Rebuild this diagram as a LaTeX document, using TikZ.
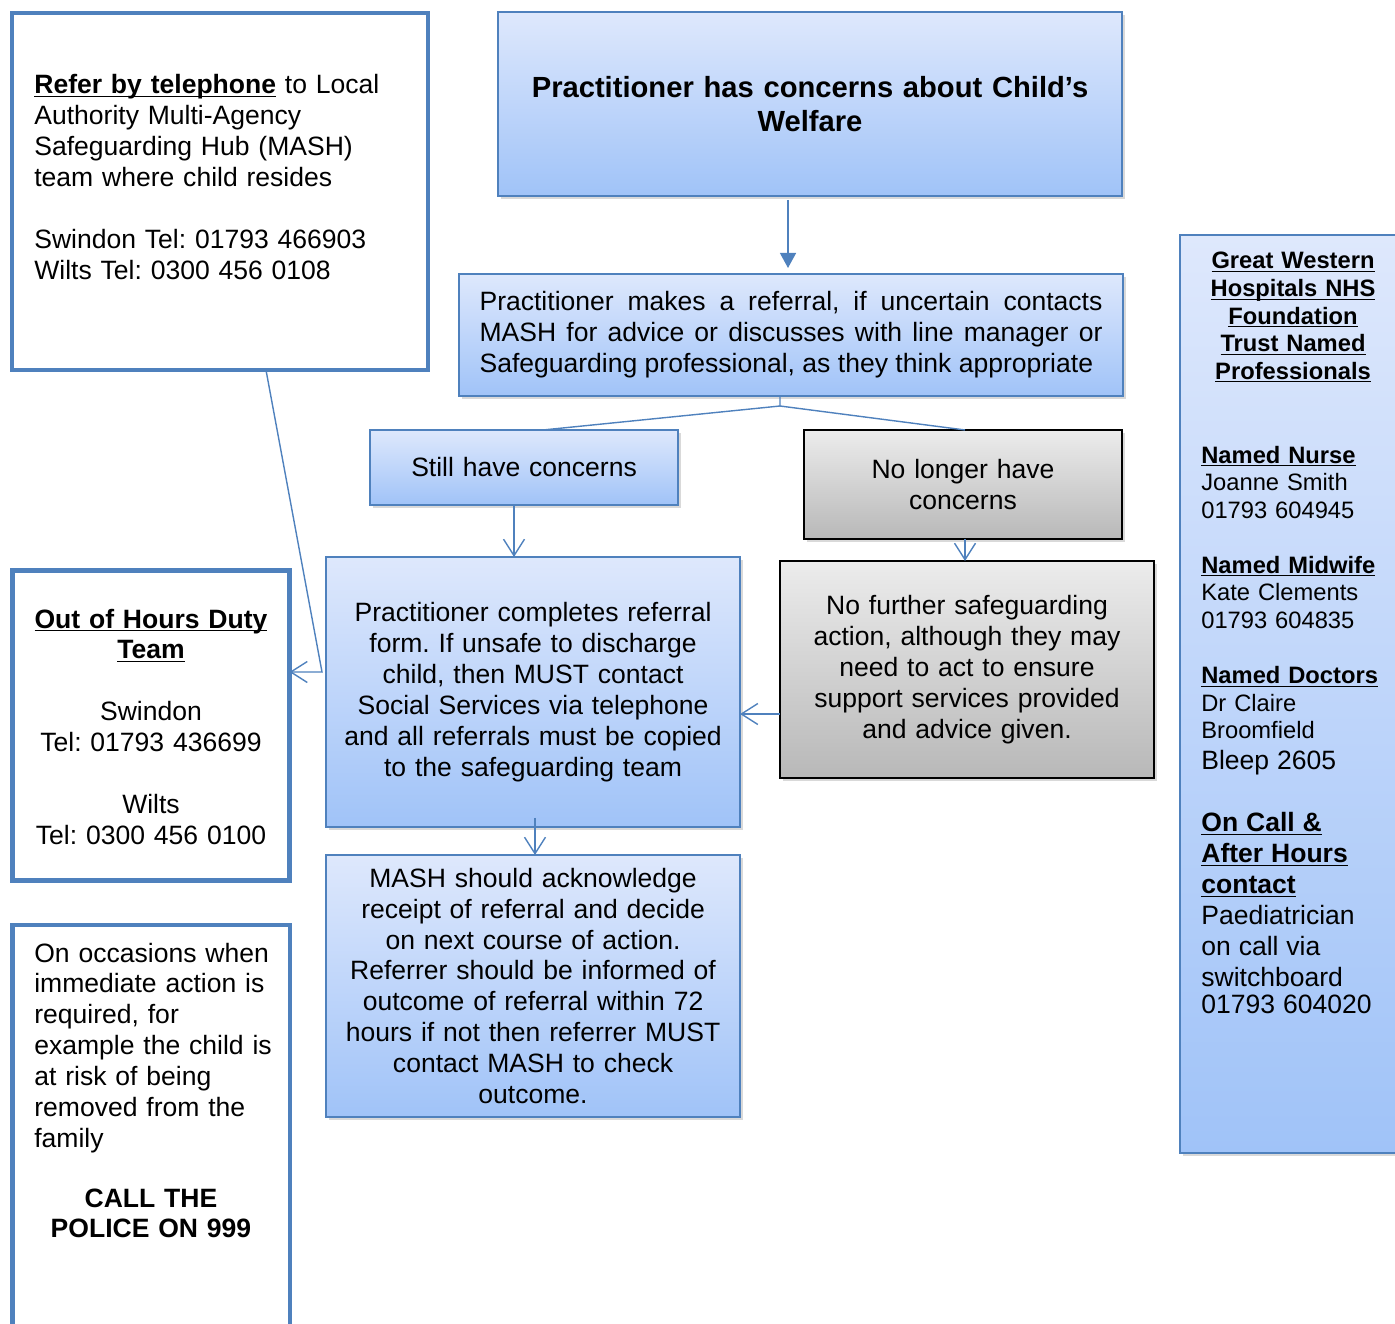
\documentclass[tikz,border=0pt]{standalone}
\usepackage{fontspec}
\setmainfont{Liberation Sans}
\frenchspacing
\usetikzlibrary{arrows.meta, positioning, shadows}
\definecolor{FlowBlue}{RGB}{79, 129, 189}
\definecolor{ShadeTop}{RGB}{222, 232, 252}
\definecolor{ShadeBottom}{RGB}{160, 195, 248}
\definecolor{GreyTop}{RGB}{236, 236, 236}
\definecolor{GreyBottom}{RGB}{184, 184, 184}
\newcommand{\bodyfont}{\fontsize{15.1}{17.6}\selectfont}
\newcommand{\smallfont}{\fontsize{13.5}{15.7}\selectfont}
\newcommand{\headfont}{\fontsize{16.6}{19.3}\selectfont\bfseries}
\newcommand{\ulined}[1]{\underline{\smash{#1}}}
\tikzset{
  boxsize/.style 2 args={minimum width=#1*0.02cm, minimum height=#2*0.02cm},
  flowbox/.style={rectangle, draw=#1, line width=0.9pt, inner sep=0pt, outer sep=0pt,
                  font=\bodyfont, align=center,
                  drop shadow={opacity=0.3, shadow xshift=0.06cm, shadow yshift=-0.06cm}},
  bluebox/.style={flowbox=FlowBlue, top color=ShadeTop, bottom color=ShadeBottom},
  greybox/.style={flowbox=black, top color=GreyTop, bottom color=GreyBottom},
  plainbox/.style={rectangle, draw=FlowBlue, line width=2.6pt, fill=white,
                   inner sep=0pt, outer sep=0pt},
  boxtext/.style={inner sep=0pt, font=\bodyfont, align=left},
  link/.style={draw=FlowBlue, line width=0.8pt},
  openarr/.style={link, -{Straight Barb[length=0.33cm, width=0.42cm]}},
  fillarr/.style={link, -{Triangle[length=0.3cm, width=0.32cm]}},
}
\begin{document}
\begin{tikzpicture}[x=0.02cm, y=-0.02cm]
  \clip (0,0) rectangle (1395,1324);

  \node[bluebox, boxsize={624}{184}, font=\headfont, text width=11.6cm] (title) at (810,104)
       {Practitioner has concerns about Child’s\\Welfare};
  \node[bluebox, boxsize={664}{122}, text width=12.46cm, align=justify,
        below=1.56cm of title, xshift=-0.38cm] (referral)
       {Practitioner makes a referral, if uncertain contacts\linebreak
        MASH for advice or discusses with line manager or\linebreak
        Safeguarding professional, as they think appropriate};
  \node[bluebox, boxsize={308}{75}, text width=5.8cm,
        below=0.68cm of referral, xshift=-5.34cm] (still)
       {Still have concerns};
  \node[greybox, boxsize={318}{109}, text width=6cm,
        below=0.68cm of referral, xshift=3.44cm] (nolonger)
       {No longer have\\concerns};
  \node[greybox, boxsize={374}{217}, text width=6.9cm,
        below=0.44cm of nolonger, xshift=0.08cm] (nofurther)
       {No further safeguarding\\action, although they may\\need to act to ensure\\support services provided\\and advice given.};
  \node[bluebox, boxsize={414}{270}, text width=7.9cm,
        below=1.04cm of still, xshift=0.18cm] (complete)
       {Practitioner completes referral\\form. If unsafe to discharge\\child, then MUST contact\\Social Services via telephone\\and all referrals must be copied\\to the safeguarding team};
  \node[bluebox, boxsize={414}{262}, text width=7.9cm,
        below=0.56cm of complete] (mash)
       {MASH should acknowledge\\receipt of referral and decide\\on next course of action.\\Referrer should be informed of\\outcome of referral within 72\\hours if not then referrer MUST\\contact MASH to check\\outcome.};

  \node[plainbox, boxsize={416}{357}] (ref) at (220,191.5) {};
  \node[boxtext, anchor=base west, text width=7.6cm] (reftext) at (34,94)
       {\ulined{\textbf{Refer by telephone}} to Local\\Authority Multi-Agency\\Safeguarding Hub (MASH)\\team where child resides\\[17.6pt]Swindon Tel: 01793 466903\\Wilts Tel: 0300 456 0108};

  \node[plainbox, boxsize={277}{310}] (ooh) at (151,725.5) {};
  \node[boxtext, anchor=base, align=center, text width=5cm] (oohtext) at (151,628)
       {\ulined{\textbf{Out of Hours Duty}}\\\ulined{\textbf{Team}}\\[17.6pt]Swindon\\Tel: 01793 436699\\[17.6pt]Wilts\\Tel: 0300 456 0100};

  \node[plainbox, boxsize={277.5}{425}] (police) at (151.25,1137.5) {};
  \node[boxtext, anchor=base west, text width=5cm] (policetext) at (34,962)
       {On occasions when\\immediate action is\\required, for\\example the child is\\at risk of being\\removed from the\\family};
  \node[boxtext, anchor=base, align=center, text width=5cm, font=\bodyfont\bfseries] (policecall) at (151,1207)
       {CALL THE\\POLICE ON 999};

  \node[bluebox, boxsize={240}{918}] (gwh) at (1300,694) {};
  \node[boxtext, anchor=base, font=\smallfont\bfseries, align=center, text width=3.7cm] (gwhhead) at (1293,269)
       {\ulined{Great Western}\\\ulined{Hospitals NHS}\\\ulined{Foundation}\\\ulined{Trust Named}\\\ulined{Professionals}};
  \node[boxtext, anchor=base west, font=\smallfont, text width=3.8cm] (gwhbody) at (1201,463)
       {\ulined{\textbf{Named Nurse}}\\Joanne Smith\\01793 604945\\[15.7pt]
        \ulined{\textbf{Named Midwife}}\\Kate Clements\\01793 604835\\[15.7pt]
        \ulined{\textbf{Named Doctors}}\\Dr Claire\\Broomfield\par
        \bodyfont Bleep 2605\\[17.6pt]
        \ulined{\textbf{On Call \&}}\\\ulined{\textbf{After Hours}}\\\ulined{\textbf{contact}}\\Paediatrician\\on call via\\switchboard\\01793 604020};

  \coordinate (split) at (780,406);
  \coordinate (bend) at (322,672);

  \draw[fillarr, shorten <=0.08cm, shorten >=0.12cm] (title.south -| 788,0) -- (referral.north -| 788,0);
  \draw[link] (referral.south -| split) -- (split) -- ([xshift=0.38cm]still.north);
  \draw[link] (split) -- ([xshift=0.04cm]nolonger.north);
  \draw[openarr] (still.south -| 514,0) -- (complete.north -| 514,0);
  \draw[openarr] (nolonger.south -| 965,0) -- (nofurther.north -| 965,0);
  \draw[openarr] (nofurther.west |- 0,714) -- (complete.east |- 0,714);
  \draw[openarr, shorten <=-0.18cm] (complete.south -| 535,0) -- (mash.north -| 535,0);
  \draw[openarr] ([xshift=0.92cm]ref.south) -- (bend) -- (ooh.east |- bend);
\end{tikzpicture}
\end{document}
